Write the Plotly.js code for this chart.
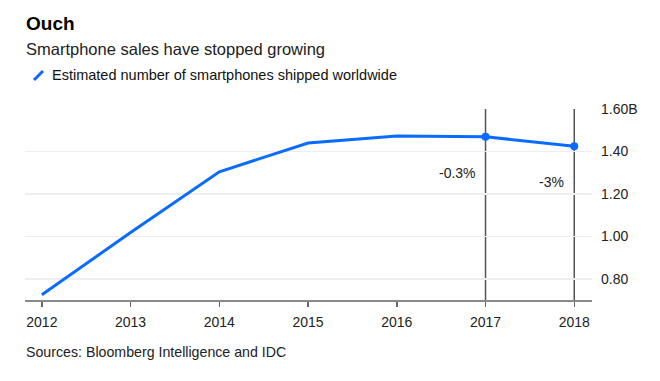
<!DOCTYPE html>
<html>
<head>
<meta charset="utf-8">
<script src="https://cdn.plot.ly/plotly-3.0.1.min.js"></script>
<style>
  html, body { margin: 0; padding: 0; background: #fff; }
  #chart { width: 660px; height: 381px; }
</style>
</head>
<body>
<div id="chart"></div>
<script>
// ---- data ----
const years = [2012, 2013, 2014, 2015, 2016, 2017, 2018];
const shipments = [0.725, 1.018, 1.304, 1.440, 1.473, 1.469, 1.425]; // billions
const yTickVals = [0.8, 1.0, 1.2, 1.4, 1.6];
const yTickText = ["0.80", "1.00", "1.20", "1.40", "1.60B"];
const highlightYears = [2017, 2018];
const highlightLabels = ["-0.3%", "-3%"];

const FONT = "Liberation Sans, Arial, Helvetica, sans-serif";
const BLUE = "#0a6cff";
const yMin = 0.70, yMax = 1.6;

const hlValues = highlightYears.map(y => shipments[years.indexOf(y)]);

const traces = [
  {
    x: years, y: shipments, type: "scatter", mode: "lines",
    line: { color: BLUE, width: 3 }, hoverinfo: "skip", showlegend: false
  },
  {
    x: highlightYears, y: hlValues, type: "scatter", mode: "markers",
    marker: { color: BLUE, size: 8 }, hoverinfo: "skip", showlegend: false
  }
];

const shapes = highlightYears.map(yr => ({
  type: "line", xref: "x", yref: "y",
  x0: yr, x1: yr, y0: yMin, y1: yMax,
  line: { color: "#555", width: 1.5 }, layer: "below"
}));
// legend slash icon
shapes.push({
  type: "line", xref: "paper", yref: "paper",
  x0: (34 - 25) / 567, x1: (43 - 25) / 567,
  y0: (300 - 80) / 191, y1: (300 - 71) / 191,
  line: { color: BLUE, width: 3 }
});

const annotations = highlightYears.map((yr, i) => ({
  x: yr, y: hlValues[i], xref: "x", yref: "y",
  text: highlightLabels[i], showarrow: false,
  xanchor: "right", yanchor: "middle", xshift: -8, yshift: -36,
  font: { family: FONT, size: 14, color: "#222" }
}));

annotations.push(
  { text: "<b>Ouch</b>", xref: "paper", yref: "paper", x: -0.002, y: (300 - 23.5) / 191,
    xanchor: "left", yanchor: "middle", showarrow: false,
    font: { family: FONT, size: 19, color: "#000" } },
  { text: "Smartphone sales have stopped growing", xref: "paper", yref: "paper",
    x: -0.002, y: (300 - 48.5) / 191, xanchor: "left", yanchor: "middle", showarrow: false,
    font: { family: FONT, size: 16.5, color: "#222" } },
  { text: "Estimated number of smartphones shipped worldwide", xref: "paper", yref: "paper",
    x: (50 - 25) / 567, y: (300 - 74.5) / 191, xanchor: "left", yanchor: "middle", showarrow: false,
    font: { family: FONT, size: 14.5, color: "#111" } },
  { text: "Sources: Bloomberg Intelligence and IDC", xref: "paper", yref: "paper",
    x: -0.002, y: (300 - 352) / 191, xanchor: "left", yanchor: "middle", showarrow: false,
    font: { family: FONT, size: 14.2, color: "#222" } }
);

const layout = {
  width: 660, height: 381,
  margin: { l: 25, r: 68, t: 109, b: 81 },
  paper_bgcolor: "#fff", plot_bgcolor: "#fff",
  showlegend: false,
  font: { family: FONT, color: "#222" },
  xaxis: {
    range: [2011.81, 2018.2], tickvals: years, ticktext: years.map(String),
    showgrid: false, zeroline: false,
    showline: true, linecolor: "#888", linewidth: 1.5,
    ticks: "outside", ticklen: 5, tickcolor: "#666", tickwidth: 1.5,
    ticklabelstandoff: 4,
    tickfont: { family: FONT, size: 14, color: "#222" }, fixedrange: true
  },
  yaxis: {
    range: [yMin, yMax], side: "right", tickvals: yTickVals, ticktext: yTickText,
    showgrid: true, gridcolor: "#eeeeee", gridwidth: 1.5, zeroline: false,
    showline: false, ticks: "", ticklabelstandoff: 8,
    tickfont: { family: FONT, size: 14, color: "#222" }, fixedrange: true
  },
  shapes: shapes,
  annotations: annotations
};

Plotly.newPlot("chart", traces, layout, { displayModeBar: false, staticPlot: true });
</script>
</body>
</html>
